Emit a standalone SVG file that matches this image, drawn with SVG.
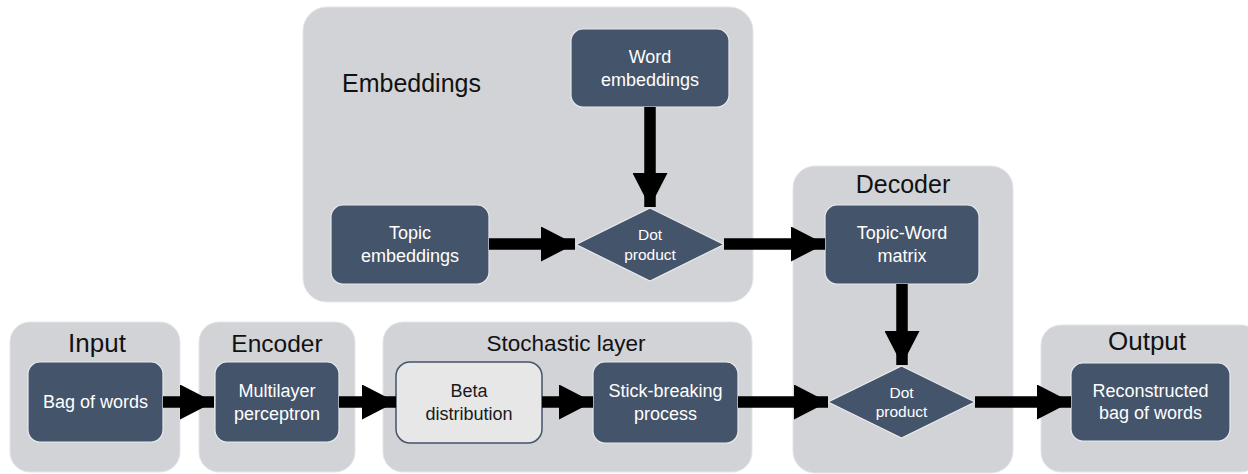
<svg xmlns="http://www.w3.org/2000/svg" width="1248" height="474" viewBox="0 0 1248 474">
<defs>
<style>
.grp{fill:#D1D3D7;stroke:#E4E5E8;stroke-width:1}
.node{fill:#44546A;stroke:#E8EAEE;stroke-width:1.2}
.light{fill:#E7E7E8;stroke:#44546A;stroke-width:1.5}
.t{font-family:"Liberation Sans",Arial,sans-serif;fill:#FFFFFF;font-size:18px;text-anchor:middle}
.td{font-family:"Liberation Sans",Arial,sans-serif;fill:#FFFFFF;font-size:15.5px;text-anchor:middle}
.tk{fill:#1A1A1A}
.title{font-family:"Liberation Sans",Arial,sans-serif;fill:#111111;font-size:25px;text-anchor:middle}
.conn line{stroke:#000;stroke-width:11.5;marker-end:url(#ah)}
</style>
<marker id="ah" viewBox="0 0 34 35" markerWidth="34" markerHeight="35" refX="34" refY="17.5" markerUnits="userSpaceOnUse" orient="auto">
<path d="M0,0 L34,17.5 L0,35 Z" fill="#000"/>
</marker>
</defs>
<rect width="1248" height="474" fill="#FFFFFF"/>

<g id="group-embeddings">
<rect class="grp" x="303" y="7" width="450" height="295" rx="24"/>
<text class="title" x="342" y="92" style="text-anchor:start">Embeddings</text>
</g>
<g id="group-decoder">
<rect class="grp" x="793" y="166" width="220" height="307" rx="22"/>
<text class="title" x="903" y="193">Decoder</text>
</g>
<g id="group-input">
<rect class="grp" x="10" y="322" width="170" height="150" rx="20"/>
<text class="title" x="97" y="352" style="font-size:26px">Input</text>
</g>
<g id="group-encoder">
<rect class="grp" x="199" y="322" width="156" height="150" rx="20"/>
<text class="title" x="277" y="352" style="font-size:24.5px">Encoder</text>
</g>
<g id="group-stochastic">
<rect class="grp" x="383" y="322" width="369" height="150" rx="20"/>
<text class="title" x="566" y="351" style="font-size:22.5px">Stochastic layer</text>
</g>
<g id="group-output">
<rect class="grp" x="1041" y="325" width="220" height="147" rx="20"/>
<text class="title" x="1147" y="350" style="font-size:26px">Output</text>
</g>

<g id="word-embeddings">
<rect class="node" x="571" y="29" width="158" height="78" rx="12"/>
<text class="t" x="650" y="63">Word</text>
<text class="t" x="650" y="86">embeddings</text>
</g>
<g id="topic-embeddings">
<rect class="node" x="331" y="205" width="158" height="79" rx="12"/>
<text class="t" x="410" y="239">Topic</text>
<text class="t" x="410" y="262">embeddings</text>
</g>
<g id="dot-product-1">
<polygon class="node" points="650,208 724,244.5 650,281 576,244.5"/>
<text class="td" x="650" y="240">Dot</text>
<text class="td" x="650" y="260">product</text>
</g>
<g id="topic-word-matrix">
<rect class="node" x="825" y="205" width="154" height="79" rx="12"/>
<text class="t" x="902" y="239">Topic-Word</text>
<text class="t" x="902" y="262">matrix</text>
</g>
<g id="dot-product-2">
<polygon class="node" points="901.5,366 975,402 901.5,438 828,402"/>
<text class="td" x="901.5" y="398">Dot</text>
<text class="td" x="901.5" y="417">product</text>
</g>
<g id="bag-of-words">
<rect class="node" x="28" y="362" width="135" height="80" rx="12"/>
<text class="t" x="95.5" y="408">Bag of words</text>
</g>
<g id="multilayer-perceptron">
<rect class="node" x="215" y="362" width="124" height="80" rx="12"/>
<text class="t" x="277" y="397">Multilayer</text>
<text class="t" x="277" y="420">perceptron</text>
</g>
<g id="beta-distribution">
<rect class="light" x="396" y="362" width="146" height="81" rx="14"/>
<text class="t tk" x="469" y="397">Beta</text>
<text class="t tk" x="469" y="420">distribution</text>
</g>
<g id="stick-breaking">
<rect class="node" x="593" y="362" width="145" height="81" rx="12"/>
<text class="t" x="665.5" y="397">Stick-breaking</text>
<text class="t" x="665.5" y="420">process</text>
</g>
<g id="reconstructed">
<rect class="node" x="1071" y="363" width="159" height="78" rx="12"/>
<text class="t" x="1150.5" y="397">Reconstructed</text>
<text class="t" x="1150.5" y="419">bag of words</text>
</g>

<g id="connectors" class="conn">
<line x1="650" y1="107" x2="650" y2="207"/>
<line x1="489" y1="244" x2="575" y2="244"/>
<line x1="724" y1="244" x2="825" y2="244"/>
<line x1="902" y1="284" x2="902" y2="365"/>
<line x1="163" y1="402" x2="214" y2="402"/>
<line x1="339" y1="402" x2="396" y2="402"/>
<line x1="542" y1="402" x2="593" y2="402"/>
<line x1="738" y1="402" x2="828" y2="402"/>
<line x1="975" y1="402" x2="1071" y2="402"/>
</g>
</svg>
